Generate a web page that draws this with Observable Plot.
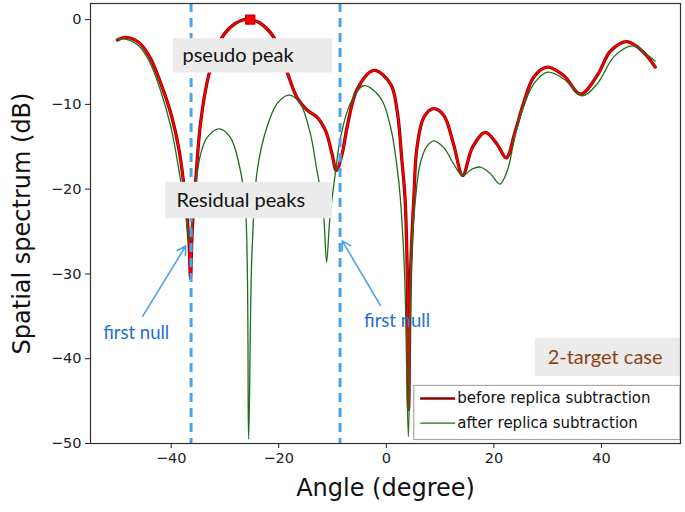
<!DOCTYPE html>
<html>
<head>
<meta charset="utf-8">
<script src="https://cdn.jsdelivr.net/npm/d3@7"></script>
<script src="https://cdn.jsdelivr.net/npm/@observablehq/plot@0.6"></script>
<style>
  html, body { margin: 0; padding: 0; background: #fff; }
  #chart { width: 685px; height: 512px; }
</style>
</head>
<body>
<div id="chart"></div>
<script>
// ---- data ----
const angleBefore = [-50, -48.5, -46, -44, -42, -40, -38.5, -37.3, -36.7, -36.4, -36.1, -35.5, -34.5, -33, -31, -29, -27, -25.3, -23.5, -20.9, -19.5, -18.1, -16.6, -14.7, -12.9, -11.3, -10.1, -9.3, -8.2, -7.3, -5.4, -2.3, 0.8, 2.0, 2.9, 3.5, 3.9, 4.15, 4.5, 5.1, 5.7, 7.0, 8.8, 10.7, 12.5, 14.2, 16.0, 18.4, 20.6, 22.3, 24.0, 25.5, 27.4, 29.9, 33.0, 36.1, 39.2, 41.7, 44.8, 47.9, 50];
const dbBefore    = [-2.4, -2.1, -2.7, -4.4, -7.4, -11.2, -15.5, -21.5, -26, -30.5, -25, -19.5, -12, -6.5, -2.6, -0.9, -0.1, 0, -0.4, -2.1, -4.2, -6.8, -9.2, -10.7, -11.5, -13.1, -15.8, -17.8, -15.8, -12.7, -8.2, -6.0, -7.6, -10.7, -16.6, -21.3, -30, -46, -30, -21.3, -15.1, -11.5, -10.5, -11.3, -14.7, -18.4, -15.1, -13.3, -14.7, -16.3, -13.1, -9.9, -6.8, -5.6, -6.6, -8.8, -6.6, -3.7, -2.6, -3.9, -5.6];

const angleAfter = [-50, -48.5, -46, -44, -42, -40, -38.5, -37.3, -36.6, -36.2, -35.5, -34.5, -33.3, -31.1, -29.0, -27.4, -26.2, -25.6, -25.0, -24.0, -22.2, -20.3, -18.1, -16.0, -14.1, -12.9, -12.2, -11.6, -11.1, -10.5, -9.5, -8.5, -6.7, -4.2, -1.1, 0.8, 2.0, 2.6, 3.4, 4.1, 4.7, 5.4, 6.3, 7.6, 8.8, 10.7, 12.5, 14.2, 16.0, 17.5, 19.4, 21.1, 22.5, 24.0, 25.5, 27.4, 30.0, 33.0, 36.4, 39.2, 42.3, 45.7, 48.2, 50];
const dbAfter    = [-2.4, -2.3, -3.1, -5.0, -8.3, -12.8, -18.0, -23.0, -26.2, -24.5, -19.8, -15.8, -13.9, -12.9, -13.9, -17.0, -22.1, -49.5, -28, -17.8, -12.7, -9.9, -8.9, -9.9, -13.5, -17.8, -20.2, -23.5, -28.6, -23.5, -18.2, -13.9, -9.9, -7.8, -9.2, -12.7, -17.4, -21.0, -30, -49.2, -28, -21.3, -17.0, -14.9, -14.3, -15.1, -17.0, -18.4, -17.6, -17.4, -18.2, -19.4, -17.8, -13.5, -10.3, -7.6, -6.2, -7.0, -9.0, -7.6, -4.4, -3.1, -4.0, -4.9];

const seriesNames = ["before replica subtraction", "after replica subtraction"];
const peakAngle = [-25.3];
const peakDb = [0];
const nullAngles = [-36.3, -8.6];
const xTicks = [-40, -20, 0, 20, 40];
const yTicks = [0, -10, -20, -30, -40, -50];

// annotation boxes (data coordinates)
const boxText = ["pseudo peak", "Residual peaks", "2-target case"];
const boxX1 = [-39.6, -41.0, 27.7];
const boxX2 = [-10.0, -10.0, 54.7];
const boxY1 = [-2.25, -19.2, -37.6];
const boxY2 = [-6.3, -23.5, -42.1];
const boxTextX = [-37.9, -39.0, 30.0];
const boxTextColor = ["#111", "#111", "#8a4513"];

const nullLabelX = [-46.5, 2.0];
const nullLabelY = [-37.0, -35.6];
const arrowX1 = [-45.3, -1.1];
const arrowY1 = [-35.0, -33.7];
const arrowX2 = [-37.3, -8.2];
const arrowY2 = [-26.7, -26.1];

// legend (data coordinates)
const legendBox = {x1: 5.2, x2: 54.7, y1: -43.2, y2: -49.6};
const legendY = [-44.7, -47.6];
const legendLineX = [6.3, 12.8];
const legendTextX = 13.2;

// ---- build tables ----
const before = angleBefore.map((a, i) => ({angle: a, db: dbBefore[i]}));
const after = angleAfter.map((a, i) => ({angle: a, db: dbAfter[i]}));
const boxes = boxText.map((t, i) => ({t, x1: boxX1[i], x2: boxX2[i], y1: boxY1[i], y2: boxY2[i], tx: boxTextX[i], color: boxTextColor[i]}));
const nullLabels = nullLabelX.map((x, i) => ({x, y: nullLabelY[i]}));
const arrows = arrowX1.map((x, i) => ({x1: x, y1: arrowY1[i], x2: arrowX2[i], y2: arrowY2[i]}));
const legendItems = seriesNames.map((n, i) => ({name: n, y: legendY[i], color: i === 0 ? "#8b0000" : "#1e6e1e", w: i === 0 ? 2.6 : 1.3}));
const peak = peakAngle.map((a, i) => ({angle: a, db: peakDb[i]}));

const blue = "#4aa3ea";
const annFont = "Lato, 'Open Sans', sans-serif";
const minus = d => d3.format("")(d).replace("-", "\u2212");

const chart = Plot.plot({
  width: 685,
  height: 512,
  marginLeft: 90,
  marginRight: 5,
  marginTop: 3,
  marginBottom: 69,
  style: {fontFamily: "'DejaVu Sans', sans-serif", fontSize: "14.5px", color: "#222", background: "#fff"},
  x: {domain: [-55, 54.7], ticks: xTicks, tickSize: 5, tickPadding: 4, label: null},
  y: {domain: [-50, 1.9], ticks: yTicks, tickSize: 5, tickPadding: 4, label: null},
  marks: [
    // curves
    Plot.line(before, {x: "angle", y: "db", stroke: "#8b0000", strokeWidth: 3.3, curve: "catmull-rom"}),
    Plot.line(before, {x: "angle", y: "db", stroke: "#ff0000", strokeWidth: 1.7, curve: "catmull-rom"}),
    Plot.line(after, {x: "angle", y: "db", stroke: "#1e6e1e", strokeWidth: 1.3, curve: "catmull-rom"}),
    Plot.dot(peak, {x: "angle", y: "db", symbol: "square", r: 5, fill: "#ff0000", stroke: "#cc0000"}),
    // dashed null lines
    Plot.ruleX(nullAngles, {stroke: blue, strokeWidth: 3, strokeDasharray: "9,6"}),
    // annotation boxes
    Plot.rect(boxes, {x1: "x1", x2: "x2", y1: "y1", y2: "y2", fill: "#ebebeb"}),
    Plot.text(boxes, {x: "tx", y: d => (d.y1 + d.y2) / 2, text: "t", fill: "color", textAnchor: "start", fontSize: 20, fontFamily: annFont}),
    // first null arrows & labels
    Plot.arrow(arrows, {x1: "x1", y1: "y1", x2: "x2", y2: "y2", stroke: blue, strokeWidth: 1.6, headLength: 9, bend: 0}),
    Plot.text(nullLabels, {x: "x", y: "y", text: () => "first null", fill: "#1f6fd0", fontSize: 18.5, fontFamily: annFont}),
    // legend
    Plot.rect([legendBox], {x1: "x1", x2: "x2", y1: "y1", y2: "y2", fill: "white", stroke: "#999", strokeWidth: 1}),
    Plot.link(legendItems, {x1: () => legendLineX[0], x2: () => legendLineX[1], y1: "y", y2: "y", stroke: "color", strokeWidth: "w"}),
    Plot.text(legendItems, {x: () => legendTextX, y: "y", text: "name", textAnchor: "start", fontSize: 15, fill: "#111"}),
    // axes
    Plot.axisX({ticks: xTicks, tickSize: 5, tickFormat: minus, fontSize: 14.5, label: null}),
    Plot.axisY({ticks: yTicks, tickSize: 5, tickFormat: minus, fontSize: 14.5, label: null}),
    Plot.frame({stroke: "#333", strokeWidth: 1.2}),
    // axis titles
    Plot.text(["Angle (degree)"], {frameAnchor: "bottom", dy: 52, text: d => d, fontSize: 24, fill: "#111"}),
    Plot.text(["Spatial spectrum (dB)"], {frameAnchor: "left", dx: -68, rotate: -90, textAnchor: "middle", text: d => d, fontSize: 24, fill: "#111"})
  ]
});
document.getElementById("chart").appendChild(chart);
</script>
</body>
</html>
